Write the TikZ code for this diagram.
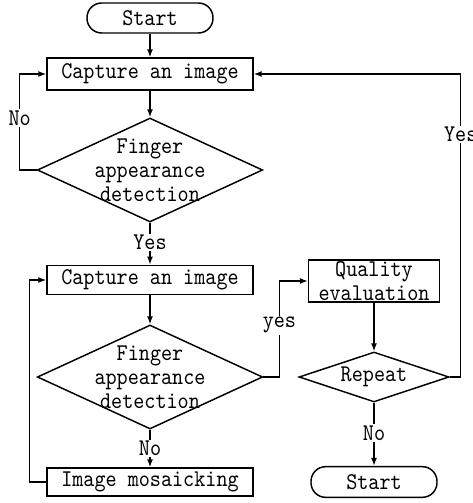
\documentclass[tikz,border=0pt]{standalone}
\usepackage{fontspec}
\setmonofont{lmmono10-regular.otf}[FakeStretch=0.88]
\usetikzlibrary{arrows.meta,shapes.geometric}

\begin{document}
\begin{tikzpicture}[
  x=0.75pt, y=-0.75pt,
  font=\ttfamily\fontsize{18}{18}\selectfont,
  box/.style={draw, line width=1.1pt, inner sep=0pt, align=center},
  term/.style={box, rounded corners=11pt, minimum width=94.5pt, minimum height=22.5pt},
  decision/.style={draw, line width=1.1pt, diamond, inner sep=0pt},
  flow/.style={line width=1.1pt, -{Latex[length=6pt,width=4.5pt]}},
  lab/.style={fill=white, inner sep=1pt}
]
\useasboundingbox (0,0) rectangle (473,503);

% main column
\node[term] (start) at (150,18) {Start};
\node[box, minimum width=154.5pt, minimum height=24pt] (cap1) at (150,74) {Capture an image};
\node[decision, minimum width=169pt, minimum height=78pt,
  label={[align=center]center:Finger\\appearance\\detection}] (det1) at (150,170) {};
\node[box, minimum width=154.5pt, minimum height=22pt] (cap2) at (150,280) {Capture an image};
\node[decision, minimum width=169pt, minimum height=78pt,
  label={[align=center]center:Finger\\appearance\\detection}] (det2) at (150,377) {};
\node[box, minimum width=154.5pt, minimum height=21pt] (mosaic) at (150,482) {Image mosaicking};

% right column
\node[box, minimum width=98pt, minimum height=31.5pt] (qual) at (374,281) {Quality\\evaluation};
\node[decision, minimum width=112.5pt, minimum height=37.5pt,
  label={center:Repeat}] (rep) at (374,377) {};
\node[term, minimum height=23pt] (stop) at (374,482) {Start};

\draw[flow] (start) -- (cap1);
\draw[flow] (cap1) -- (det1);
\draw[flow] (det1.west) -- ++(-17,0) |- node[lab, pos=0.27] (no1) {No} (cap1.west);
\draw[flow] (det1) -- node[lab, pos=0.47] (yes1) {Yes} (cap2);
\draw[flow] (cap2) -- (det2);
\draw[flow] (det2) -- node[lab, pos=0.5] (no2) {No} (mosaic);
\draw[flow] (mosaic.west) -- ++(-17,0) |- (cap2.west);
\draw[flow] (det2.east) -- ++(16,0) |- node[lab, pos=0.27] (yes2) {yes} (qual.west);
\draw[flow] (qual) -- (rep);
\draw[flow] (rep.east) -- ++(11,0) |- node[lab, pos=0.4] (yes3) {Yes} (cap1.east);
\draw[flow] (rep) -- node[lab, pos=0.48] (no3) {No} (stop);
\end{tikzpicture}
\end{document}
